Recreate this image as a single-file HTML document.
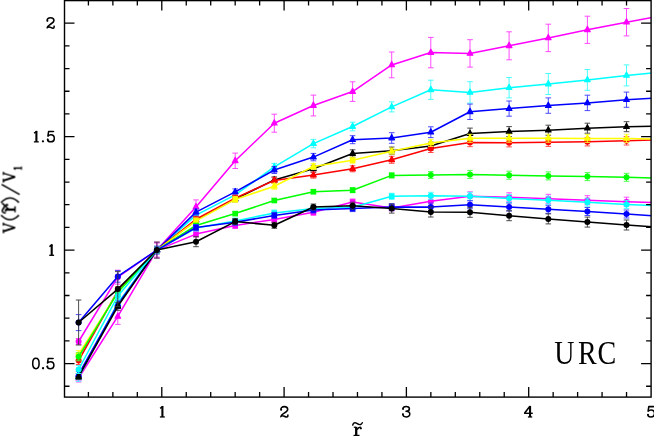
<!DOCTYPE html>
<html><head><meta charset="utf-8"><title>URC</title>
<style>html,body{margin:0;padding:0;background:#fff;overflow:hidden}svg{display:block}</style>
</head><body>
<svg width="654" height="436" viewBox="0 0 654 436">
<rect width="654" height="436" fill="#fff"/>
<clipPath id="cp"><rect x="64.5" y="0.6" width="586.6" height="396.5"/></clipPath>
<g clip-path="url(#cp)">
<path d="M78.6 374.0V382.0M75.8 374.0h5.6M75.8 382.0h5.6M117.8 308.4V324.4M115.0 308.4h5.6M115.0 324.4h5.6M156.9 242.1V258.1M154.1 242.1h5.6M154.1 258.1h5.6M196.0 199.9V213.9M193.2 199.9h5.6M193.2 213.9h5.6M235.2 153.1V168.5M232.4 153.1h5.6M232.4 168.5h5.6M274.3 114.2V132.2M271.5 114.2h5.6M271.5 132.2h5.6M313.4 95.1V115.9M310.6 95.1h5.6M310.6 115.9h5.6M352.6 81.8V101.4M349.8 81.8h5.6M349.8 101.4h5.6M391.7 52.0V77.8M388.9 52.0h5.6M388.9 77.8h5.6M430.8 37.4V67.8M428.0 37.4h5.6M428.0 67.8h5.6M470.0 39.7V67.1M467.2 39.7h5.6M467.2 67.1h5.6M509.1 31.8V59.8M506.3 31.8h5.6M506.3 59.8h5.6M548.3 24.2V51.6M545.5 24.2h5.6M545.5 51.6h5.6M587.4 16.2V43.4M584.6 16.2h5.6M584.6 43.4h5.6M626.5 8.5V35.9M623.7 8.5h5.6M623.7 35.9h5.6M665.7 1.4V28.8M662.9 1.4h5.6M662.9 28.8h5.6" stroke="#ff38ff" stroke-width="0.9" fill="none"/>
<polyline points="78.6,378.0 117.8,316.4 156.9,250.1 196.0,206.9 235.2,160.8 274.3,123.2 313.4,105.5 352.6,91.6 391.7,64.9 430.8,52.6 470.0,53.4 509.1,45.8 548.3,37.9 587.4,29.8 626.5,22.2 665.7,15.1" stroke="#ff00ff" stroke-width="1.55" fill="none" stroke-linejoin="round"/>
<path d="M78.6 374.6l2.8 5.2h-5.6z" fill="#ff00ff" stroke="#ff00ff" stroke-width="1.2" stroke-linejoin="round"/>
<path d="M117.8 313.0l2.8 5.2h-5.6z" fill="#ff00ff" stroke="#ff00ff" stroke-width="1.2" stroke-linejoin="round"/>
<path d="M156.9 246.7l2.8 5.2h-5.6z" fill="#ff00ff" stroke="#ff00ff" stroke-width="1.2" stroke-linejoin="round"/>
<path d="M196.0 203.5l2.8 5.2h-5.6z" fill="#ff00ff" stroke="#ff00ff" stroke-width="1.2" stroke-linejoin="round"/>
<path d="M235.2 157.4l2.8 5.2h-5.6z" fill="#ff00ff" stroke="#ff00ff" stroke-width="1.2" stroke-linejoin="round"/>
<path d="M274.3 119.8l2.8 5.2h-5.6z" fill="#ff00ff" stroke="#ff00ff" stroke-width="1.2" stroke-linejoin="round"/>
<path d="M313.4 102.1l2.8 5.2h-5.6z" fill="#ff00ff" stroke="#ff00ff" stroke-width="1.2" stroke-linejoin="round"/>
<path d="M352.6 88.2l2.8 5.2h-5.6z" fill="#ff00ff" stroke="#ff00ff" stroke-width="1.2" stroke-linejoin="round"/>
<path d="M391.7 61.5l2.8 5.2h-5.6z" fill="#ff00ff" stroke="#ff00ff" stroke-width="1.2" stroke-linejoin="round"/>
<path d="M430.8 49.2l2.8 5.2h-5.6z" fill="#ff00ff" stroke="#ff00ff" stroke-width="1.2" stroke-linejoin="round"/>
<path d="M470.0 50.0l2.8 5.2h-5.6z" fill="#ff00ff" stroke="#ff00ff" stroke-width="1.2" stroke-linejoin="round"/>
<path d="M509.1 42.4l2.8 5.2h-5.6z" fill="#ff00ff" stroke="#ff00ff" stroke-width="1.2" stroke-linejoin="round"/>
<path d="M548.3 34.5l2.8 5.2h-5.6z" fill="#ff00ff" stroke="#ff00ff" stroke-width="1.2" stroke-linejoin="round"/>
<path d="M587.4 26.4l2.8 5.2h-5.6z" fill="#ff00ff" stroke="#ff00ff" stroke-width="1.2" stroke-linejoin="round"/>
<path d="M626.5 18.8l2.8 5.2h-5.6z" fill="#ff00ff" stroke="#ff00ff" stroke-width="1.2" stroke-linejoin="round"/>
<path d="M665.7 11.7l2.8 5.2h-5.6z" fill="#ff00ff" stroke="#ff00ff" stroke-width="1.2" stroke-linejoin="round"/>
<path d="M78.6 373.3V381.3M75.8 373.3h5.6M75.8 381.3h5.6M117.8 299.2V307.2M115.0 299.2h5.6M115.0 307.2h5.6M156.9 247.1V253.1M154.1 247.1h5.6M154.1 253.1h5.6M196.0 212.1V218.1M193.2 212.1h5.6M193.2 218.1h5.6M235.2 191.9V197.9M232.4 191.9h5.6M232.4 197.9h5.6M274.3 163.4V170.4M271.5 163.4h5.6M271.5 170.4h5.6M313.4 139.4V147.8M310.6 139.4h5.6M310.6 147.8h5.6M352.6 122.2V130.8M349.8 122.2h5.6M349.8 130.8h5.6M391.7 101.9V111.9M388.9 101.9h5.6M388.9 111.9h5.6M430.8 80.2V99.4M428.0 80.2h5.6M428.0 99.4h5.6M470.0 81.7V103.1M467.2 81.7h5.6M467.2 103.1h5.6M509.1 77.5V97.9M506.3 77.5h5.6M506.3 97.9h5.6M548.3 73.5V94.5M545.5 73.5h5.6M545.5 94.5h5.6M587.4 69.5V90.3M584.6 69.5h5.6M584.6 90.3h5.6M626.5 64.9V85.9M623.7 64.9h5.6M623.7 85.9h5.6M665.7 61.3V82.3M662.9 61.3h5.6M662.9 82.3h5.6" stroke="#38ffff" stroke-width="0.9" fill="none"/>
<polyline points="78.6,377.3 117.8,303.2 156.9,250.1 196.0,215.1 235.2,194.9 274.3,166.9 313.4,143.6 352.6,126.5 391.7,106.9 430.8,89.8 470.0,92.4 509.1,87.7 548.3,84.0 587.4,79.9 626.5,75.4 665.7,71.8" stroke="#00ffff" stroke-width="1.55" fill="none" stroke-linejoin="round"/>
<path d="M78.6 373.9l2.8 5.2h-5.6z" fill="#00ffff" stroke="#00ffff" stroke-width="1.2" stroke-linejoin="round"/>
<path d="M117.8 299.8l2.8 5.2h-5.6z" fill="#00ffff" stroke="#00ffff" stroke-width="1.2" stroke-linejoin="round"/>
<path d="M156.9 246.7l2.8 5.2h-5.6z" fill="#00ffff" stroke="#00ffff" stroke-width="1.2" stroke-linejoin="round"/>
<path d="M196.0 211.7l2.8 5.2h-5.6z" fill="#00ffff" stroke="#00ffff" stroke-width="1.2" stroke-linejoin="round"/>
<path d="M235.2 191.5l2.8 5.2h-5.6z" fill="#00ffff" stroke="#00ffff" stroke-width="1.2" stroke-linejoin="round"/>
<path d="M274.3 163.5l2.8 5.2h-5.6z" fill="#00ffff" stroke="#00ffff" stroke-width="1.2" stroke-linejoin="round"/>
<path d="M313.4 140.2l2.8 5.2h-5.6z" fill="#00ffff" stroke="#00ffff" stroke-width="1.2" stroke-linejoin="round"/>
<path d="M352.6 123.1l2.8 5.2h-5.6z" fill="#00ffff" stroke="#00ffff" stroke-width="1.2" stroke-linejoin="round"/>
<path d="M391.7 103.5l2.8 5.2h-5.6z" fill="#00ffff" stroke="#00ffff" stroke-width="1.2" stroke-linejoin="round"/>
<path d="M430.8 86.4l2.8 5.2h-5.6z" fill="#00ffff" stroke="#00ffff" stroke-width="1.2" stroke-linejoin="round"/>
<path d="M470.0 89.0l2.8 5.2h-5.6z" fill="#00ffff" stroke="#00ffff" stroke-width="1.2" stroke-linejoin="round"/>
<path d="M509.1 84.3l2.8 5.2h-5.6z" fill="#00ffff" stroke="#00ffff" stroke-width="1.2" stroke-linejoin="round"/>
<path d="M548.3 80.6l2.8 5.2h-5.6z" fill="#00ffff" stroke="#00ffff" stroke-width="1.2" stroke-linejoin="round"/>
<path d="M587.4 76.5l2.8 5.2h-5.6z" fill="#00ffff" stroke="#00ffff" stroke-width="1.2" stroke-linejoin="round"/>
<path d="M626.5 72.0l2.8 5.2h-5.6z" fill="#00ffff" stroke="#00ffff" stroke-width="1.2" stroke-linejoin="round"/>
<path d="M665.7 68.4l2.8 5.2h-5.6z" fill="#00ffff" stroke="#00ffff" stroke-width="1.2" stroke-linejoin="round"/>
<path d="M78.6 371.5V377.5M75.8 371.5h5.6M75.8 377.5h5.6M117.8 300.5V308.5M115.0 300.5h5.6M115.0 308.5h5.6M156.9 247.1V253.1M154.1 247.1h5.6M154.1 253.1h5.6M196.0 209.1V215.1M193.2 209.1h5.6M193.2 215.1h5.6M235.2 188.9V194.9M232.4 188.9h5.6M232.4 194.9h5.6M274.3 166.5V173.5M271.5 166.5h5.6M271.5 173.5h5.6M313.4 153.4V160.8M310.6 153.4h5.6M310.6 160.8h5.6M352.6 135.7V143.7M349.8 135.7h5.6M349.8 143.7h5.6M391.7 132.7V143.3M388.9 132.7h5.6M388.9 143.3h5.6M430.8 126.8V137.6M428.0 126.8h5.6M428.0 137.6h5.6M470.0 104.1V119.5M467.2 104.1h5.6M467.2 119.5h5.6M509.1 101.0V116.2M506.3 101.0h5.6M506.3 116.2h5.6M548.3 97.9V113.3M545.5 97.9h5.6M545.5 113.3h5.6M587.4 95.2V110.6M584.6 95.2h5.6M584.6 110.6h5.6M626.5 92.1V107.3M623.7 92.1h5.6M623.7 107.3h5.6M665.7 89.8V105.0M662.9 89.8h5.6M662.9 105.0h5.6" stroke="#3838ff" stroke-width="0.9" fill="none"/>
<polyline points="78.6,374.5 117.8,304.5 156.9,250.1 196.0,212.1 235.2,191.9 274.3,170.0 313.4,157.1 352.6,139.7 391.7,138.0 430.8,132.2 470.0,111.8 509.1,108.6 548.3,105.6 587.4,102.9 626.5,99.7 665.7,97.4" stroke="#0000ff" stroke-width="1.55" fill="none" stroke-linejoin="round"/>
<path d="M78.6 371.1l2.8 5.2h-5.6z" fill="#0000ff" stroke="#0000ff" stroke-width="1.2" stroke-linejoin="round"/>
<path d="M117.8 301.1l2.8 5.2h-5.6z" fill="#0000ff" stroke="#0000ff" stroke-width="1.2" stroke-linejoin="round"/>
<path d="M156.9 246.7l2.8 5.2h-5.6z" fill="#0000ff" stroke="#0000ff" stroke-width="1.2" stroke-linejoin="round"/>
<path d="M196.0 208.7l2.8 5.2h-5.6z" fill="#0000ff" stroke="#0000ff" stroke-width="1.2" stroke-linejoin="round"/>
<path d="M235.2 188.5l2.8 5.2h-5.6z" fill="#0000ff" stroke="#0000ff" stroke-width="1.2" stroke-linejoin="round"/>
<path d="M274.3 166.6l2.8 5.2h-5.6z" fill="#0000ff" stroke="#0000ff" stroke-width="1.2" stroke-linejoin="round"/>
<path d="M313.4 153.7l2.8 5.2h-5.6z" fill="#0000ff" stroke="#0000ff" stroke-width="1.2" stroke-linejoin="round"/>
<path d="M352.6 136.3l2.8 5.2h-5.6z" fill="#0000ff" stroke="#0000ff" stroke-width="1.2" stroke-linejoin="round"/>
<path d="M391.7 134.6l2.8 5.2h-5.6z" fill="#0000ff" stroke="#0000ff" stroke-width="1.2" stroke-linejoin="round"/>
<path d="M430.8 128.8l2.8 5.2h-5.6z" fill="#0000ff" stroke="#0000ff" stroke-width="1.2" stroke-linejoin="round"/>
<path d="M470.0 108.4l2.8 5.2h-5.6z" fill="#0000ff" stroke="#0000ff" stroke-width="1.2" stroke-linejoin="round"/>
<path d="M509.1 105.2l2.8 5.2h-5.6z" fill="#0000ff" stroke="#0000ff" stroke-width="1.2" stroke-linejoin="round"/>
<path d="M548.3 102.2l2.8 5.2h-5.6z" fill="#0000ff" stroke="#0000ff" stroke-width="1.2" stroke-linejoin="round"/>
<path d="M587.4 99.5l2.8 5.2h-5.6z" fill="#0000ff" stroke="#0000ff" stroke-width="1.2" stroke-linejoin="round"/>
<path d="M626.5 96.3l2.8 5.2h-5.6z" fill="#0000ff" stroke="#0000ff" stroke-width="1.2" stroke-linejoin="round"/>
<path d="M665.7 94.0l2.8 5.2h-5.6z" fill="#0000ff" stroke="#0000ff" stroke-width="1.2" stroke-linejoin="round"/>
<path d="M78.6 373.5V379.5M75.8 373.5h5.6M75.8 379.5h5.6M117.8 302.3V310.3M115.0 302.3h5.6M115.0 310.3h5.6M156.9 247.1V253.1M154.1 247.1h5.6M154.1 253.1h5.6M196.0 217.1V223.1M193.2 217.1h5.6M193.2 223.1h5.6M235.2 196.1V202.1M232.4 196.1h5.6M232.4 202.1h5.6M274.3 176.9V182.9M271.5 176.9h5.6M271.5 182.9h5.6M313.4 165.3V172.3M310.6 165.3h5.6M310.6 172.3h5.6M352.6 149.8V157.2M349.8 149.8h5.6M349.8 157.2h5.6M391.7 147.1V154.5M388.9 147.1h5.6M388.9 154.5h5.6M430.8 142.1V150.1M428.0 142.1h5.6M428.0 150.1h5.6M470.0 128.1V139.1M467.2 128.1h5.6M467.2 139.1h5.6M509.1 126.6V136.6M506.3 126.6h5.6M506.3 136.6h5.6M548.3 125.2V135.2M545.5 125.2h5.6M545.5 135.2h5.6M587.4 123.2V133.2M584.6 123.2h5.6M584.6 133.2h5.6M626.5 121.7V131.7M623.7 121.7h5.6M623.7 131.7h5.6M665.7 120.9V130.9M662.9 120.9h5.6M662.9 130.9h5.6" stroke="#383838" stroke-width="0.9" fill="none"/>
<polyline points="78.6,376.5 117.8,306.3 156.9,250.1 196.0,220.1 235.2,199.1 274.3,179.9 313.4,168.8 352.6,153.5 391.7,150.8 430.8,146.1 470.0,133.6 509.1,131.6 548.3,130.2 587.4,128.2 626.5,126.7 665.7,125.9" stroke="#000000" stroke-width="1.55" fill="none" stroke-linejoin="round"/>
<path d="M78.6 373.1l2.8 5.2h-5.6z" fill="#000000" stroke="#000000" stroke-width="1.2" stroke-linejoin="round"/>
<path d="M117.8 302.9l2.8 5.2h-5.6z" fill="#000000" stroke="#000000" stroke-width="1.2" stroke-linejoin="round"/>
<path d="M156.9 246.7l2.8 5.2h-5.6z" fill="#000000" stroke="#000000" stroke-width="1.2" stroke-linejoin="round"/>
<path d="M196.0 216.7l2.8 5.2h-5.6z" fill="#000000" stroke="#000000" stroke-width="1.2" stroke-linejoin="round"/>
<path d="M235.2 195.7l2.8 5.2h-5.6z" fill="#000000" stroke="#000000" stroke-width="1.2" stroke-linejoin="round"/>
<path d="M274.3 176.5l2.8 5.2h-5.6z" fill="#000000" stroke="#000000" stroke-width="1.2" stroke-linejoin="round"/>
<path d="M313.4 165.4l2.8 5.2h-5.6z" fill="#000000" stroke="#000000" stroke-width="1.2" stroke-linejoin="round"/>
<path d="M352.6 150.1l2.8 5.2h-5.6z" fill="#000000" stroke="#000000" stroke-width="1.2" stroke-linejoin="round"/>
<path d="M391.7 147.4l2.8 5.2h-5.6z" fill="#000000" stroke="#000000" stroke-width="1.2" stroke-linejoin="round"/>
<path d="M430.8 142.7l2.8 5.2h-5.6z" fill="#000000" stroke="#000000" stroke-width="1.2" stroke-linejoin="round"/>
<path d="M470.0 130.2l2.8 5.2h-5.6z" fill="#000000" stroke="#000000" stroke-width="1.2" stroke-linejoin="round"/>
<path d="M509.1 128.2l2.8 5.2h-5.6z" fill="#000000" stroke="#000000" stroke-width="1.2" stroke-linejoin="round"/>
<path d="M548.3 126.8l2.8 5.2h-5.6z" fill="#000000" stroke="#000000" stroke-width="1.2" stroke-linejoin="round"/>
<path d="M587.4 124.8l2.8 5.2h-5.6z" fill="#000000" stroke="#000000" stroke-width="1.2" stroke-linejoin="round"/>
<path d="M626.5 123.3l2.8 5.2h-5.6z" fill="#000000" stroke="#000000" stroke-width="1.2" stroke-linejoin="round"/>
<path d="M665.7 122.5l2.8 5.2h-5.6z" fill="#000000" stroke="#000000" stroke-width="1.2" stroke-linejoin="round"/>
<path d="M78.6 356.5V364.5M75.8 356.5h5.6M75.8 364.5h5.6M117.8 286.8V294.8M115.0 286.8h5.6M115.0 294.8h5.6M156.9 247.1V253.1M154.1 247.1h5.6M154.1 253.1h5.6M196.0 216.3V222.3M193.2 216.3h5.6M193.2 222.3h5.6M235.2 195.1V201.1M232.4 195.1h5.6M232.4 201.1h5.6M274.3 177.4V183.4M271.5 177.4h5.6M271.5 183.4h5.6M313.4 172.1V178.1M310.6 172.1h5.6M310.6 178.1h5.6M352.6 165.8V171.8M349.8 165.8h5.6M349.8 171.8h5.6M391.7 156.3V163.3M388.9 156.3h5.6M388.9 163.3h5.6M430.8 144.5V152.5M428.0 144.5h5.6M428.0 152.5h5.6M470.0 138.3V146.7M467.2 138.3h5.6M467.2 146.7h5.6M509.1 138.5V146.9M506.3 138.5h5.6M506.3 146.9h5.6M548.3 138.0V146.4M545.5 138.0h5.6M545.5 146.4h5.6M587.4 137.5V145.9M584.6 137.5h5.6M584.6 145.9h5.6M626.5 136.6V145.0M623.7 136.6h5.6M623.7 145.0h5.6M665.7 135.3V143.7M662.9 135.3h5.6M662.9 143.7h5.6" stroke="#ff3838" stroke-width="0.9" fill="none"/>
<polyline points="78.6,360.5 117.8,290.8 156.9,250.1 196.0,219.3 235.2,198.1 274.3,180.4 313.4,175.1 352.6,168.8 391.7,159.8 430.8,148.5 470.0,142.5 509.1,142.7 548.3,142.2 587.4,141.7 626.5,140.8 665.7,139.5" stroke="#ff0000" stroke-width="1.55" fill="none" stroke-linejoin="round"/>
<circle cx="78.6" cy="360.5" r="3" fill="#ff0000"/>
<circle cx="117.8" cy="290.8" r="3" fill="#ff0000"/>
<circle cx="156.9" cy="250.1" r="3" fill="#ff0000"/>
<rect x="193.2" y="216.5" width="5.6" height="5.6" fill="#ff0000"/>
<rect x="232.4" y="195.3" width="5.6" height="5.6" fill="#ff0000"/>
<path d="M274.3 177.0l2.8 5.2h-5.6z" fill="#ff0000" stroke="#ff0000" stroke-width="1.2" stroke-linejoin="round"/>
<path d="M313.4 171.7l2.8 5.2h-5.6z" fill="#ff0000" stroke="#ff0000" stroke-width="1.2" stroke-linejoin="round"/>
<path d="M352.6 165.4l2.8 5.2h-5.6z" fill="#ff0000" stroke="#ff0000" stroke-width="1.2" stroke-linejoin="round"/>
<path d="M391.7 156.4l2.8 5.2h-5.6z" fill="#ff0000" stroke="#ff0000" stroke-width="1.2" stroke-linejoin="round"/>
<circle cx="430.8" cy="148.5" r="3" fill="#ff0000"/>
<circle cx="470.0" cy="142.5" r="3" fill="#ff0000"/>
<circle cx="509.1" cy="142.7" r="3" fill="#ff0000"/>
<circle cx="548.3" cy="142.2" r="3" fill="#ff0000"/>
<circle cx="587.4" cy="141.7" r="3" fill="#ff0000"/>
<circle cx="626.5" cy="140.8" r="3" fill="#ff0000"/>
<circle cx="665.7" cy="139.5" r="3" fill="#ff0000"/>
<path d="M78.6 350.5V358.5M75.8 350.5h5.6M75.8 358.5h5.6M117.8 288.3V296.3M115.0 288.3h5.6M115.0 296.3h5.6M156.9 247.1V253.1M154.1 247.1h5.6M154.1 253.1h5.6M196.0 217.9V223.9M193.2 217.9h5.6M193.2 223.9h5.6M235.2 196.4V202.4M232.4 196.4h5.6M232.4 202.4h5.6M274.3 183.3V189.3M271.5 183.3h5.6M271.5 189.3h5.6M313.4 163.5V169.5M310.6 163.5h5.6M310.6 169.5h5.6M352.6 157.2V163.2M349.8 157.2h5.6M349.8 163.2h5.6M391.7 148.2V154.2M388.9 148.2h5.6M388.9 154.2h5.6M430.8 139.4V146.4M428.0 139.4h5.6M428.0 146.4h5.6M470.0 134.3V142.3M467.2 134.3h5.6M467.2 142.3h5.6M509.1 134.2V142.2M506.3 134.2h5.6M506.3 142.2h5.6M548.3 134.2V142.2M545.5 134.2h5.6M545.5 142.2h5.6M587.4 134.4V142.4M584.6 134.4h5.6M584.6 142.4h5.6M626.5 134.4V142.4M623.7 134.4h5.6M623.7 142.4h5.6M665.7 135.2V143.2M662.9 135.2h5.6M662.9 143.2h5.6" stroke="#ffff38" stroke-width="0.9" fill="none"/>
<polyline points="78.6,354.5 117.8,292.3 156.9,250.1 196.0,220.9 235.2,199.4 274.3,186.3 313.4,166.5 352.6,160.2 391.7,151.2 430.8,142.9 470.0,138.3 509.1,138.2 548.3,138.2 587.4,138.4 626.5,138.4 665.7,139.2" stroke="#ffff00" stroke-width="1.55" fill="none" stroke-linejoin="round"/>
<circle cx="78.6" cy="354.5" r="3" fill="#ffff00"/>
<circle cx="117.8" cy="292.3" r="3" fill="#ffff00"/>
<circle cx="156.9" cy="250.1" r="3" fill="#ffff00"/>
<rect x="193.2" y="218.1" width="5.6" height="5.6" fill="#ffff00"/>
<rect x="232.4" y="196.6" width="5.6" height="5.6" fill="#ffff00"/>
<path d="M274.3 182.9l2.8 5.2h-5.6z" fill="#ffff00" stroke="#ffff00" stroke-width="1.2" stroke-linejoin="round"/>
<path d="M313.4 163.1l2.8 5.2h-5.6z" fill="#ffff00" stroke="#ffff00" stroke-width="1.2" stroke-linejoin="round"/>
<rect x="349.8" y="157.4" width="5.6" height="5.6" fill="#ffff00"/>
<path d="M391.7 147.8l2.8 5.2h-5.6z" fill="#ffff00" stroke="#ffff00" stroke-width="1.2" stroke-linejoin="round"/>
<path d="M430.8 139.5l2.8 5.2h-5.6z" fill="#ffff00" stroke="#ffff00" stroke-width="1.2" stroke-linejoin="round"/>
<path d="M470.0 134.9l2.8 5.2h-5.6z" fill="#ffff00" stroke="#ffff00" stroke-width="1.2" stroke-linejoin="round"/>
<path d="M509.1 134.8l2.8 5.2h-5.6z" fill="#ffff00" stroke="#ffff00" stroke-width="1.2" stroke-linejoin="round"/>
<path d="M548.3 134.8l2.8 5.2h-5.6z" fill="#ffff00" stroke="#ffff00" stroke-width="1.2" stroke-linejoin="round"/>
<path d="M587.4 135.0l2.8 5.2h-5.6z" fill="#ffff00" stroke="#ffff00" stroke-width="1.2" stroke-linejoin="round"/>
<path d="M626.5 135.0l2.8 5.2h-5.6z" fill="#ffff00" stroke="#ffff00" stroke-width="1.2" stroke-linejoin="round"/>
<path d="M665.7 135.8l2.8 5.2h-5.6z" fill="#ffff00" stroke="#ffff00" stroke-width="1.2" stroke-linejoin="round"/>
<path d="M78.6 352.8V360.8M75.8 352.8h5.6M75.8 360.8h5.6M117.8 288.3V296.3M115.0 288.3h5.6M115.0 296.3h5.6M156.9 247.1V253.1M154.1 247.1h5.6M154.1 253.1h5.6M196.0 223.5V227.5M193.2 223.5h5.6M193.2 227.5h5.6M235.2 211.6V215.6M232.4 211.6h5.6M232.4 215.6h5.6M274.3 198.5V202.5M271.5 198.5h5.6M271.5 202.5h5.6M313.4 189.7V193.7M310.6 189.7h5.6M310.6 193.7h5.6M352.6 187.7V192.7M349.8 187.7h5.6M349.8 192.7h5.6M391.7 172.9V177.9M388.9 172.9h5.6M388.9 177.9h5.6M430.8 171.6V178.6M428.0 171.6h5.6M428.0 178.6h5.6M470.0 170.4V178.4M467.2 170.4h5.6M467.2 178.4h5.6M509.1 171.2V179.2M506.3 171.2h5.6M506.3 179.2h5.6M548.3 171.9V179.9M545.5 171.9h5.6M545.5 179.9h5.6M587.4 172.6V180.6M584.6 172.6h5.6M584.6 180.6h5.6M626.5 173.3V181.3M623.7 173.3h5.6M623.7 181.3h5.6M665.7 174.3V182.3M662.9 174.3h5.6M662.9 182.3h5.6" stroke="#38ff38" stroke-width="0.9" fill="none"/>
<polyline points="78.6,356.8 117.8,292.3 156.9,250.1 196.0,225.5 235.2,213.6 274.3,200.5 313.4,191.7 352.6,190.2 391.7,175.4 430.8,175.1 470.0,174.4 509.1,175.2 548.3,175.9 587.4,176.6 626.5,177.3 665.7,178.3" stroke="#00ff00" stroke-width="1.55" fill="none" stroke-linejoin="round"/>
<circle cx="78.6" cy="356.8" r="3" fill="#00ff00"/>
<circle cx="117.8" cy="292.3" r="3" fill="#00ff00"/>
<circle cx="156.9" cy="250.1" r="3" fill="#00ff00"/>
<rect x="193.2" y="222.7" width="5.6" height="5.6" fill="#00ff00"/>
<rect x="232.4" y="210.8" width="5.6" height="5.6" fill="#00ff00"/>
<rect x="271.5" y="197.7" width="5.6" height="5.6" fill="#00ff00"/>
<rect x="310.6" y="188.9" width="5.6" height="5.6" fill="#00ff00"/>
<rect x="349.8" y="187.4" width="5.6" height="5.6" fill="#00ff00"/>
<rect x="388.9" y="172.6" width="5.6" height="5.6" fill="#00ff00"/>
<circle cx="430.8" cy="175.1" r="3" fill="#00ff00"/>
<circle cx="470.0" cy="174.4" r="3" fill="#00ff00"/>
<circle cx="509.1" cy="175.2" r="3" fill="#00ff00"/>
<circle cx="548.3" cy="175.9" r="3" fill="#00ff00"/>
<circle cx="587.4" cy="176.6" r="3" fill="#00ff00"/>
<circle cx="626.5" cy="177.3" r="3" fill="#00ff00"/>
<circle cx="665.7" cy="178.3" r="3" fill="#00ff00"/>
<path d="M78.6 338.5V344.5M75.8 338.5h5.6M75.8 344.5h5.6M117.8 270.2V284.2M115.0 270.2h5.6M115.0 284.2h5.6M156.9 243.1V257.1M154.1 243.1h5.6M154.1 257.1h5.6M196.0 231.1V237.1M193.2 231.1h5.6M193.2 237.1h5.6M235.2 222.5V228.5M232.4 222.5h5.6M232.4 228.5h5.6M274.3 216.4V222.4M271.5 216.4h5.6M271.5 222.4h5.6M313.4 209.3V215.3M310.6 209.3h5.6M310.6 215.3h5.6M352.6 199.0V205.0M349.8 199.0h5.6M349.8 205.0h5.6M391.7 204.9V210.9M388.9 204.9h5.6M388.9 210.9h5.6M430.8 197.2V205.2M428.0 197.2h5.6M428.0 205.2h5.6M470.0 191.8V200.8M467.2 191.8h5.6M467.2 200.8h5.6M509.1 192.8V201.8M506.3 192.8h5.6M506.3 201.8h5.6M548.3 194.3V203.3M545.5 194.3h5.6M545.5 203.3h5.6M587.4 195.7V204.7M584.6 195.7h5.6M584.6 204.7h5.6M626.5 197.2V206.2M623.7 197.2h5.6M623.7 206.2h5.6M665.7 198.5V207.5M662.9 198.5h5.6M662.9 207.5h5.6" stroke="#ff38ff" stroke-width="0.9" fill="none"/>
<polyline points="78.6,341.5 117.8,277.2 156.9,250.1 196.0,234.1 235.2,225.5 274.3,219.4 313.4,212.3 352.6,202.0 391.7,207.9 430.8,201.2 470.0,196.3 509.1,197.3 548.3,198.8 587.4,200.2 626.5,201.7 665.7,203.0" stroke="#ff00ff" stroke-width="1.55" fill="none" stroke-linejoin="round"/>
<circle cx="78.6" cy="341.5" r="3" fill="#ff00ff"/>
<circle cx="117.8" cy="277.2" r="3" fill="#ff00ff"/>
<circle cx="156.9" cy="250.1" r="3" fill="#ff00ff"/>
<rect x="193.2" y="231.3" width="5.6" height="5.6" fill="#ff00ff"/>
<rect x="232.4" y="222.7" width="5.6" height="5.6" fill="#ff00ff"/>
<rect x="271.5" y="216.6" width="5.6" height="5.6" fill="#ff00ff"/>
<rect x="310.6" y="209.5" width="5.6" height="5.6" fill="#ff00ff"/>
<rect x="349.8" y="199.2" width="5.6" height="5.6" fill="#ff00ff"/>
<rect x="388.9" y="205.1" width="5.6" height="5.6" fill="#ff00ff"/>
<circle cx="430.8" cy="201.2" r="3" fill="#ff00ff"/>
<circle cx="470.0" cy="196.3" r="3" fill="#ff00ff"/>
<circle cx="509.1" cy="197.3" r="3" fill="#ff00ff"/>
<circle cx="548.3" cy="198.8" r="3" fill="#ff00ff"/>
<circle cx="587.4" cy="200.2" r="3" fill="#ff00ff"/>
<circle cx="626.5" cy="201.7" r="3" fill="#ff00ff"/>
<circle cx="665.7" cy="203.0" r="3" fill="#ff00ff"/>
<path d="M78.6 365.5V373.5M75.8 365.5h5.6M75.8 373.5h5.6M117.8 292.0V300.0M115.0 292.0h5.6M115.0 300.0h5.6M156.9 247.1V253.1M154.1 247.1h5.6M154.1 253.1h5.6M196.0 225.0V231.0M193.2 225.0h5.6M193.2 231.0h5.6M235.2 218.0V224.0M232.4 218.0h5.6M232.4 224.0h5.6M274.3 210.0V216.0M271.5 210.0h5.6M271.5 216.0h5.6M313.4 205.4V211.4M310.6 205.4h5.6M310.6 211.4h5.6M352.6 204.2V210.2M349.8 204.2h5.6M349.8 210.2h5.6M391.7 193.3V199.3M388.9 193.3h5.6M388.9 199.3h5.6M430.8 192.3V199.3M428.0 192.3h5.6M428.0 199.3h5.6M470.0 192.3V200.3M467.2 192.3h5.6M467.2 200.3h5.6M509.1 194.5V202.5M506.3 194.5h5.6M506.3 202.5h5.6M548.3 196.2V204.2M545.5 196.2h5.6M545.5 204.2h5.6M587.4 198.2V206.2M584.6 198.2h5.6M584.6 206.2h5.6M626.5 200.4V208.4M623.7 200.4h5.6M623.7 208.4h5.6M665.7 202.0V210.0M662.9 202.0h5.6M662.9 210.0h5.6" stroke="#38ffff" stroke-width="0.9" fill="none"/>
<polyline points="78.6,369.5 117.8,296.0 156.9,250.1 196.0,228.0 235.2,221.0 274.3,213.0 313.4,208.4 352.6,207.2 391.7,196.3 430.8,195.8 470.0,196.3 509.1,198.5 548.3,200.2 587.4,202.2 626.5,204.4 665.7,206.0" stroke="#00ffff" stroke-width="1.55" fill="none" stroke-linejoin="round"/>
<circle cx="78.6" cy="369.5" r="3" fill="#00ffff"/>
<circle cx="117.8" cy="296.0" r="3" fill="#00ffff"/>
<circle cx="156.9" cy="250.1" r="3" fill="#00ffff"/>
<rect x="193.2" y="225.2" width="5.6" height="5.6" fill="#00ffff"/>
<rect x="232.4" y="218.2" width="5.6" height="5.6" fill="#00ffff"/>
<rect x="271.5" y="210.2" width="5.6" height="5.6" fill="#00ffff"/>
<rect x="310.6" y="205.6" width="5.6" height="5.6" fill="#00ffff"/>
<rect x="349.8" y="204.4" width="5.6" height="5.6" fill="#00ffff"/>
<rect x="388.9" y="193.5" width="5.6" height="5.6" fill="#00ffff"/>
<circle cx="430.8" cy="195.8" r="3" fill="#00ffff"/>
<circle cx="470.0" cy="196.3" r="3" fill="#00ffff"/>
<circle cx="509.1" cy="198.5" r="3" fill="#00ffff"/>
<circle cx="548.3" cy="200.2" r="3" fill="#00ffff"/>
<circle cx="587.4" cy="202.2" r="3" fill="#00ffff"/>
<circle cx="626.5" cy="204.4" r="3" fill="#00ffff"/>
<circle cx="665.7" cy="206.0" r="3" fill="#00ffff"/>
<path d="M78.6 314.6V330.6M75.8 314.6h5.6M75.8 330.6h5.6M117.8 270.6V282.2M115.0 270.6h5.6M115.0 282.2h5.6M156.9 246.1V254.1M154.1 246.1h5.6M154.1 254.1h5.6M196.0 224.5V230.5M193.2 224.5h5.6M193.2 230.5h5.6M235.2 219.3V225.3M232.4 219.3h5.6M232.4 225.3h5.6M274.3 212.4V218.4M271.5 212.4h5.6M271.5 218.4h5.6M313.4 207.0V213.0M310.6 207.0h5.6M310.6 213.0h5.6M352.6 205.6V211.6M349.8 205.6h5.6M349.8 211.6h5.6M391.7 203.6V210.6M388.9 203.6h5.6M388.9 210.6h5.6M430.8 203.1V211.1M428.0 203.1h5.6M428.0 211.1h5.6M470.0 200.7V208.7M467.2 200.7h5.6M467.2 208.7h5.6M509.1 203.1V211.1M506.3 203.1h5.6M506.3 211.1h5.6M548.3 205.3V213.3M545.5 205.3h5.6M545.5 213.3h5.6M587.4 207.5V215.5M584.6 207.5h5.6M584.6 215.5h5.6M626.5 210.0V218.0M623.7 210.0h5.6M623.7 218.0h5.6M665.7 212.7V220.7M662.9 212.7h5.6M662.9 220.7h5.6" stroke="#3838ff" stroke-width="0.9" fill="none"/>
<polyline points="78.6,322.6 117.8,276.4 156.9,250.1 196.0,227.5 235.2,222.3 274.3,215.4 313.4,210.0 352.6,208.6 391.7,207.1 430.8,207.1 470.0,204.7 509.1,207.1 548.3,209.3 587.4,211.5 626.5,214.0 665.7,216.7" stroke="#0000ff" stroke-width="1.55" fill="none" stroke-linejoin="round"/>
<circle cx="78.6" cy="322.6" r="3" fill="#0000ff"/>
<circle cx="117.8" cy="276.4" r="3" fill="#0000ff"/>
<circle cx="156.9" cy="250.1" r="3" fill="#0000ff"/>
<rect x="193.2" y="224.7" width="5.6" height="5.6" fill="#0000ff"/>
<rect x="232.4" y="219.5" width="5.6" height="5.6" fill="#0000ff"/>
<rect x="271.5" y="212.6" width="5.6" height="5.6" fill="#0000ff"/>
<rect x="310.6" y="207.2" width="5.6" height="5.6" fill="#0000ff"/>
<rect x="349.8" y="205.8" width="5.6" height="5.6" fill="#0000ff"/>
<rect x="388.9" y="204.3" width="5.6" height="5.6" fill="#0000ff"/>
<circle cx="430.8" cy="207.1" r="3" fill="#0000ff"/>
<circle cx="470.0" cy="204.7" r="3" fill="#0000ff"/>
<circle cx="509.1" cy="207.1" r="3" fill="#0000ff"/>
<circle cx="548.3" cy="209.3" r="3" fill="#0000ff"/>
<circle cx="587.4" cy="211.5" r="3" fill="#0000ff"/>
<circle cx="626.5" cy="214.0" r="3" fill="#0000ff"/>
<circle cx="665.7" cy="216.7" r="3" fill="#0000ff"/>
<path d="M78.6 300.0V345.0M75.8 300.0h5.6M75.8 345.0h5.6M117.8 271.6V306.6M115.0 271.6h5.6M115.0 306.6h5.6M156.9 242.1V258.1M154.1 242.1h5.6M154.1 258.1h5.6M196.0 236.7V246.7M193.2 236.7h5.6M193.2 246.7h5.6M235.2 218.6V224.6M232.4 218.6h5.6M232.4 224.6h5.6M274.3 222.3V228.3M271.5 222.3h5.6M271.5 228.3h5.6M313.4 204.0V210.0M310.6 204.0h5.6M310.6 210.0h5.6M352.6 202.2V209.2M349.8 202.2h5.6M349.8 209.2h5.6M391.7 204.1V213.1M388.9 204.1h5.6M388.9 213.1h5.6M430.8 207.0V217.0M428.0 207.0h5.6M428.0 217.0h5.6M470.0 207.3V217.3M467.2 207.3h5.6M467.2 217.3h5.6M509.1 210.7V220.7M506.3 210.7h5.6M506.3 220.7h5.6M548.3 213.9V223.9M545.5 213.9h5.6M545.5 223.9h5.6M587.4 217.1V227.1M584.6 217.1h5.6M584.6 227.1h5.6M626.5 220.0V230.0M623.7 220.0h5.6M623.7 230.0h5.6M665.7 222.7V232.7M662.9 222.7h5.6M662.9 232.7h5.6" stroke="#383838" stroke-width="0.9" fill="none"/>
<polyline points="78.6,322.5 117.8,289.1 156.9,250.1 196.0,241.7 235.2,221.6 274.3,225.3 313.4,207.0 352.6,205.7 391.7,208.6 430.8,212.0 470.0,212.3 509.1,215.7 548.3,218.9 587.4,222.1 626.5,225.0 665.7,227.7" stroke="#000000" stroke-width="1.55" fill="none" stroke-linejoin="round"/>
<circle cx="78.6" cy="322.5" r="3" fill="#000000"/>
<circle cx="117.8" cy="289.1" r="3" fill="#000000"/>
<circle cx="156.9" cy="250.1" r="3" fill="#000000"/>
<circle cx="196.0" cy="241.7" r="3" fill="#000000"/>
<circle cx="235.2" cy="221.6" r="3" fill="#000000"/>
<circle cx="274.3" cy="225.3" r="3" fill="#000000"/>
<circle cx="313.4" cy="207.0" r="3" fill="#000000"/>
<circle cx="352.6" cy="205.7" r="3" fill="#000000"/>
<circle cx="391.7" cy="208.6" r="3" fill="#000000"/>
<circle cx="430.8" cy="212.0" r="3" fill="#000000"/>
<circle cx="470.0" cy="212.3" r="3" fill="#000000"/>
<circle cx="509.1" cy="215.7" r="3" fill="#000000"/>
<circle cx="548.3" cy="218.9" r="3" fill="#000000"/>
<circle cx="587.4" cy="222.1" r="3" fill="#000000"/>
<circle cx="626.5" cy="225.0" r="3" fill="#000000"/>
<circle cx="665.7" cy="227.7" r="3" fill="#000000"/>
</g>
<rect x="64.50" y="0.60" width="586.60" height="396.50" fill="none" stroke="#000" stroke-width="1.4"/>
<path d="M88.41 397.10v-5.0M88.41 0.60v5.0M112.87 397.10v-5.0M112.87 0.60v5.0M137.33 397.10v-5.0M137.33 0.60v5.0M161.79 397.10v-10.0M161.79 0.60v10.0M186.25 397.10v-5.0M186.25 0.60v5.0M210.71 397.10v-5.0M210.71 0.60v5.0M235.17 397.10v-5.0M235.17 0.60v5.0M259.63 397.10v-5.0M259.63 0.60v5.0M284.09 397.10v-10.0M284.09 0.60v10.0M308.55 397.10v-5.0M308.55 0.60v5.0M333.01 397.10v-5.0M333.01 0.60v5.0M357.47 397.10v-5.0M357.47 0.60v5.0M381.93 397.10v-5.0M381.93 0.60v5.0M406.39 397.10v-10.0M406.39 0.60v10.0M430.85 397.10v-5.0M430.85 0.60v5.0M455.31 397.10v-5.0M455.31 0.60v5.0M479.77 397.10v-5.0M479.77 0.60v5.0M504.23 397.10v-5.0M504.23 0.60v5.0M528.69 397.10v-10.0M528.69 0.60v10.0M553.15 397.10v-5.0M553.15 0.60v5.0M577.61 397.10v-5.0M577.61 0.60v5.0M602.07 397.10v-5.0M602.07 0.60v5.0M626.53 397.10v-5.0M626.53 0.60v5.0M64.50 386.24h5.0M651.10 386.24h-5.0M64.50 363.55h10.0M651.10 363.55h-10.0M64.50 340.86h5.0M651.10 340.86h-5.0M64.50 318.17h5.0M651.10 318.17h-5.0M64.50 295.48h5.0M651.10 295.48h-5.0M64.50 272.79h5.0M651.10 272.79h-5.0M64.50 250.10h10.0M651.10 250.10h-10.0M64.50 227.41h5.0M651.10 227.41h-5.0M64.50 204.72h5.0M651.10 204.72h-5.0M64.50 182.03h5.0M651.10 182.03h-5.0M64.50 159.34h5.0M651.10 159.34h-5.0M64.50 136.65h10.0M651.10 136.65h-10.0M64.50 113.96h5.0M651.10 113.96h-5.0M64.50 91.27h5.0M651.10 91.27h-5.0M64.50 68.58h5.0M651.10 68.58h-5.0M64.50 45.89h5.0M651.10 45.89h-5.0M64.50 23.20h10.0M651.10 23.20h-10.0" stroke="#000" stroke-width="1.3" fill="none"/>
<g style="opacity:0.999">
<path transform="translate(46.35,28.75)" d="M0.9,-8 C0.5,-9.7 1.9,-11 4.2,-11 C6.3,-11 7.6,-9.8 7.6,-8.2 C7.6,-6.4 5.6,-5.4 3.6,-4.2 C1.8,-3.1 0.8,-2.2 0.7,-0.9 C1.6,-2.3 2.8,-2.1 4.2,-1.4 C5.8,-0.6 7.2,-0.4 7.6,-1 L7.8,-2.6" stroke="#000" stroke-width="1.55" fill="none" stroke-linecap="round" stroke-linejoin="round"/><circle cx="47.50" cy="20.85" r="0.95" fill="#000"/>
<g transform="translate(36.40,142.50)" stroke="#000" fill="none"><path d="M0,-11.6V-0.6" stroke-width="2.1"/><path d="M0.6,-11.2L-2.3,-9.3" stroke-width="1.6"/><path d="M-2.5,-0.65H2.4" stroke-width="1.3"/></g><circle cx="42.95" cy="141.35" r="1.15" fill="#000"/><path transform="translate(46.80,142.50)" d="M6.7,-11 H1.8 L1.1,-6.4 C2,-7.3 3,-7.7 4,-7.7 C6.2,-7.7 7.5,-6.2 7.5,-4.1 C7.5,-1.9 6,-0.7 3.8,-0.7 C2,-0.7 0.9,-1.5 0.8,-2.9" stroke="#000" stroke-width="1.55" fill="none" stroke-linecap="round" stroke-linejoin="round"/><circle cx="47.80" cy="139.50" r="0.95" fill="#000"/>
<g transform="translate(51.70,255.95)" stroke="#000" fill="none"><path d="M0,-11.6V-0.6" stroke-width="2.1"/><path d="M0.6,-11.2L-2.3,-9.3" stroke-width="1.6"/><path d="M-2.5,-0.65H2.4" stroke-width="1.3"/></g>
<path transform="translate(31.90,369.40)" d="M4,-11.1 C6,-11.1 7.2,-9 7.2,-5.9 C7.2,-2.8 6,-0.7 4,-0.7 C2,-0.7 0.8,-2.8 0.8,-5.9 C0.8,-9 2,-11.1 4,-11.1Z" stroke="#000" stroke-width="1.55" fill="none" stroke-linecap="round" stroke-linejoin="round"/><circle cx="43.05" cy="368.25" r="1.15" fill="#000"/><path transform="translate(46.40,369.40)" d="M6.7,-11 H1.8 L1.1,-6.4 C2,-7.3 3,-7.7 4,-7.7 C6.2,-7.7 7.5,-6.2 7.5,-4.1 C7.5,-1.9 6,-0.7 3.8,-0.7 C2,-0.7 0.9,-1.5 0.8,-2.9" stroke="#000" stroke-width="1.55" fill="none" stroke-linecap="round" stroke-linejoin="round"/><circle cx="47.40" cy="366.40" r="0.95" fill="#000"/>
<g transform="translate(162.40,417.60)" stroke="#000" fill="none"><path d="M0,-11.6V-0.6" stroke-width="2.1"/><path d="M0.6,-11.2L-2.3,-9.3" stroke-width="1.6"/><path d="M-2.5,-0.65H2.4" stroke-width="1.3"/></g>
<path transform="translate(280.10,417.60)" d="M0.9,-8 C0.5,-9.7 1.9,-11 4.2,-11 C6.3,-11 7.6,-9.8 7.6,-8.2 C7.6,-6.4 5.6,-5.4 3.6,-4.2 C1.8,-3.1 0.8,-2.2 0.7,-0.9 C1.6,-2.3 2.8,-2.1 4.2,-1.4 C5.8,-0.6 7.2,-0.4 7.6,-1 L7.8,-2.6" stroke="#000" stroke-width="1.55" fill="none" stroke-linecap="round" stroke-linejoin="round"/><circle cx="281.25" cy="409.70" r="0.95" fill="#000"/>
<path transform="translate(402.00,417.60)" d="M0.9,-8.8 C1,-10.4 2.4,-11.2 4.1,-11.2 C6.2,-11.2 7.4,-10.3 7.4,-8.8 C7.4,-7.2 6,-6.4 4,-6.4 C6.3,-6.4 7.8,-5.3 7.8,-3.6 C7.8,-1.7 6.3,-0.7 4.2,-0.7 C2.2,-0.7 0.9,-1.6 0.8,-3.3" stroke="#000" stroke-width="1.55" fill="none" stroke-linecap="round" stroke-linejoin="round"/><circle cx="403.10" cy="408.90" r="0.95" fill="#000"/><circle cx="403.00" cy="414.10" r="0.95" fill="#000"/>
<g transform="translate(524.00,417.60)" stroke="#000" fill="none"><path d="M6.05,-11.7V-0.6" stroke-width="2.1"/><path d="M5.9,-11.3L0.5,-4.3" stroke-width="1.6"/><path d="M0.1,-4.3H8.8" stroke-width="1.4"/><path d="M3.9,-0.65H8.2" stroke-width="1.3"/></g>
<path transform="translate(647.00,417.60)" d="M6.7,-11 H1.8 L1.1,-6.4 C2,-7.3 3,-7.7 4,-7.7 C6.2,-7.7 7.5,-6.2 7.5,-4.1 C7.5,-1.9 6,-0.7 3.8,-0.7 C2,-0.7 0.9,-1.5 0.8,-2.9" stroke="#000" stroke-width="1.55" fill="none" stroke-linecap="round" stroke-linejoin="round"/><circle cx="648.00" cy="414.60" r="0.95" fill="#000"/>
<text transform="translate(554.3,364.1) scale(0.85,1)" x="0" y="0" style="font-family:'Liberation Serif',serif;font-size:33px;fill:#000">U</text>
<text transform="translate(578.0,364.1) scale(0.85,1)" x="0" y="0" style="font-family:'Liberation Serif',serif;font-size:33px;fill:#000">R</text>
<text transform="translate(597.6,364.1) scale(0.85,1)" x="0" y="0" style="font-family:'Liberation Serif',serif;font-size:33px;fill:#000">C</text>
<g transform="translate(353.30,435.80)" stroke="#000" fill="none"><path d="M2.9,-8.9V-0.3" stroke-width="2.3"/><path d="M0.5,-8.55H2.9" stroke-width="1.25"/><path d="M3.9,-6.0C4.6,-8.0 6.2,-9.1 7.7,-8.4" stroke-width="1.4"/><circle cx="7.55" cy="-7.5" r="1.15" fill="#000" stroke="none"/><path d="M0.2,-0.4H6.2" stroke-width="1.25"/><path d="M-0.6,-10.7C0,-12.9 1.5,-13.7 3.1,-12.7C4.9,-11.5 6.1,-10.7 7.3,-11.3C8.3,-11.8 8.7,-12.5 9,-13.1" stroke-width="1.45" stroke-linecap="round"/></g>
<g transform="translate(15.5,233.6) rotate(-90)"><g transform="translate(0.30,0)" stroke="#000" fill="none"><path d="M1.9,-12.2L5.65,-0.9" stroke-width="2.0"/><path d="M9.4,-12.2L5.9,-0.9" stroke-width="1.3"/><path d="M5.1,-0.6L6.3,-0.6" stroke-width="1.2"/><path d="M0,-12.1H3.9M7.6,-12.1H10.8" stroke-width="1.25"/></g><path d="M18.5,-14.5Q9.3,-5.6 18.5,3.4" stroke="#000" stroke-width="1.5" fill="none"/><g transform="translate(0,0) scale(1,1.15)"><g transform="translate(21.10,0.00)" stroke="#000" fill="none"><path d="M2.9,-8.9V-0.3" stroke-width="2.3"/><path d="M0.5,-8.55H2.9" stroke-width="1.25"/><path d="M3.9,-6.0C4.6,-8.0 6.2,-9.1 7.7,-8.4" stroke-width="1.4"/><circle cx="7.55" cy="-7.5" r="1.15" fill="#000" stroke="none"/><path d="M0.2,-0.4H6.2" stroke-width="1.25"/><path transform="translate(0,1.6)" d="M-0.6,-10.7C0,-12.9 1.5,-13.7 3.1,-12.7C4.9,-11.5 6.1,-10.7 7.3,-11.3C8.3,-11.8 8.7,-12.5 9,-13.1" stroke-width="1.45" stroke-linecap="round"/></g></g><path d="M31.0,-14.5Q40.3,-5.6 31.0,3.4" stroke="#000" stroke-width="1.5" fill="none"/><path d="M39.1 4.2L49.2 -13.9" stroke="#000" stroke-width="1.5" fill="none"/><g transform="translate(51.00,0)" stroke="#000" fill="none"><path d="M1.9,-12.2L5.65,-0.9" stroke-width="2.0"/><path d="M9.4,-12.2L5.9,-0.9" stroke-width="1.3"/><path d="M5.1,-0.6L6.3,-0.6" stroke-width="1.2"/><path d="M0,-12.1H3.9M7.6,-12.1H10.8" stroke-width="1.25"/></g><g transform="translate(65.5,6.5) scale(0.72)"><g transform="translate(0.00,0.00)" stroke="#000" fill="none"><path d="M0,-11.6V-0.6" stroke-width="2.1"/><path d="M0.6,-11.2L-2.3,-9.3" stroke-width="1.6"/><path d="M-2.5,-0.65H2.4" stroke-width="1.3"/></g></g></g>
</g>
</svg>
</body></html>
